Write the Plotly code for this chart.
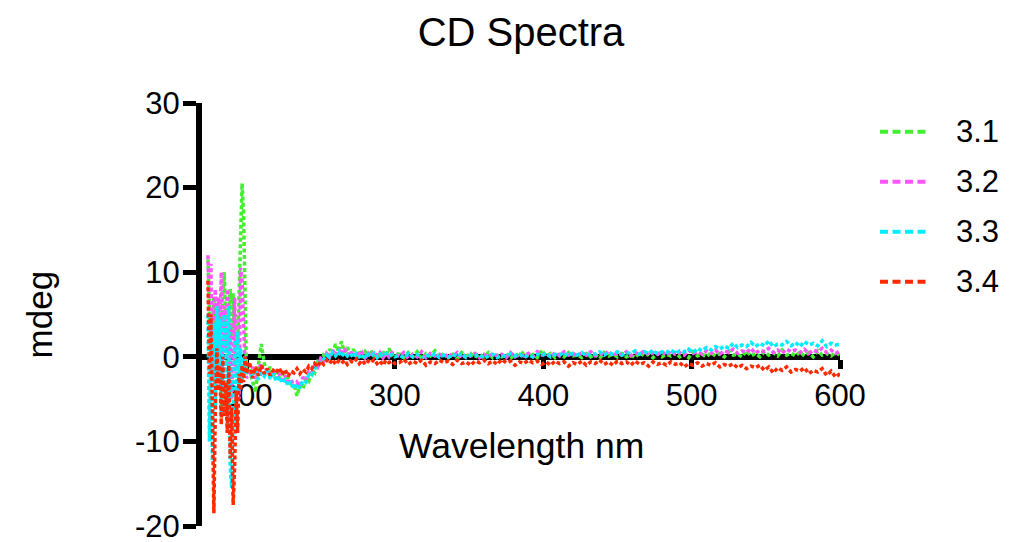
import plotly.graph_objects as go

# Wavelength grid (nm)
wavelength = list(range(174, 201)) + list(range(202, 301, 2)) + list(range(303, 601, 3))

series_names = ["3.1", "3.2", "3.3", "3.4"]
series_colors = ["#44ee33", "#ff55ff", "#00eeff", "#ff2a00"]

s31 = [
    # 174-200
    11.5, 4, -1, 3, 7, -0.5, 2, 6, 0.5, 4, 8, 10, 3, -1, 5, 8, 2, 7.5, -1, 5, 1, 9, 14, 20.5, 17, 6, -2,
    # 202-300
    -1.5, -2.8, -4.2, -1.0, 1.5, -0.8, -1.8, -1.2, -2.3, -1.6, -2.5, -1.9, -2.9, -2.4, -3.6, -3.2, -4.6, -3.4, -3.8, -2.6,
    -2.9, -1.6, -1.9, -0.6, -0.9, 0.2, -0.1, 0.9, 0.4, 1.5, 0.6, 1.8, 0.5, 1.1, 0.3, 0.9, 0.2, 0.7, -0.1, 0.6,
    0.1, 0.8, 0.0, 0.5, -0.2, 0.6, 0.1, 1.0, 0.2, 0.4,
    # 303-600
    0.3, -0.1, 0.5, 0.0, 0.6, -0.2, 0.4, 0.1, 0.7, -0.1,
    0.4, 0.0, 0.3, -0.2, 0.5, 0.1, 0.4, -0.1, 0.3, 0.0,
    0.5, -0.1, 0.2, 0.0, 0.4, -0.2, 0.3, 0.1, 0.6, 0.0,
    0.3, -0.1, 0.8, 0.1, 0.4, -0.1, 0.3, 0.0, 0.5, 0.1,
    0.2, -0.1, 0.4, 0.0, 0.3, -0.2, 0.5, 0.1, 0.3, 0.0,
    0.4, 0.0, 0.2, -0.1, 0.5, 0.1, 0.3, -0.1, 0.4, 0.0,
    0.3, 0.1, 0.5, 0.0, 0.4, -0.1, 0.6, 0.1, 0.3, 0.0,
    0.5, 0.1, 0.4, 0.0, 0.6, 0.2, 0.3, 0.0, 0.7, 0.1,
    0.4, 0.0, 0.6, 0.2, 0.5, 0.1, 0.8, 0.2, 0.4, 0.1,
    0.6, 0.1, 0.5, 0.0, 0.7, 0.2, 0.4, 0.1, 0.5, 0.2,
]

s32 = [
    12, 6, 11, -3, 5, 8, -2, 7, 3, 10, -4, 6, 1, 8, -3, 4, -5, 2, 7, -2, 3, -5, 10.5, 9, 2, -1, -2.5,
    -2.0, -1.2, -2.6, -1.5, -0.8, -2.2, -1.4, -2.4, -1.7, -2.6, -2.0, -2.8, -2.2, -3.3, -2.6, -3.6, -3.0, -3.5, -2.4, -2.8,
    -1.7, -1.9, -0.9, -1.2, -0.2, -0.5, 0.4, 0.0, 0.8, 0.2, 0.9, 0.3, 1.0, 0.2, 0.7, 0.0, 0.6, 0.1, 0.5, -0.1,
    0.4, 0.0, 0.6, 0.1, 0.5, -0.1, 0.4, 0.0, 0.5, 0.2,
    0.1, 0.5, -0.2, 0.3, 0.0, 0.6, -0.1, 0.4, 0.1, 0.3,
    -0.1, 0.4, 0.0, 0.5, -0.2, 0.3, 0.1, 0.4, -0.1, 0.3,
    0.0, 0.4, 0.1, 0.3, -0.1, 0.5, 0.0, 0.3, 0.1, 0.4,
    0.0, 0.6, 0.2, 0.4, 0.0, 0.5, 0.1, 0.6, 0.2, 0.4,
    0.1, 0.5, 0.2, 0.6, 0.1, 0.4, 0.2, 0.7, 0.1, 0.5,
    0.2, 0.6, 0.1, 0.5, 0.3, 0.7, 0.2, 0.5, 0.3, 0.6,
    0.2, 0.7, 0.3, 0.5, 0.2, 0.8, 0.4, 0.6, 0.3, 0.7,
    0.4, 0.8, 0.3, 0.7, 0.5, 0.9, 0.4, 0.7, 0.5, 1.0,
    0.4, 0.8, 0.6, 1.0, 0.5, 0.8, 0.4, 0.9, 0.6, 0.8,
    0.5, 0.9, 0.4, 0.8, 0.6, 1.0, 0.5, 0.8, 0.4, 0.7,
]

s33 = [
    5, -10, 2, -12.3, 4, -6, 6, -3, 4.5, -7, 1, 5, -5, 3, 6, -13, -15.5, -8, 2, -6, 3, -4, 1, -3, 0, -2, -1.5,
    -1.8, -2.4, -1.5, -2.7, -1.9, -2.3, -1.6, -2.6, -2.0, -2.9, -2.3, -3.1, -2.6, -3.4, -2.9, -3.8, -3.2, -3.7, -2.8, -3.0,
    -2.1, -2.2, -1.3, -1.1, -0.5, -0.3, 0.2, -0.1, 0.5, 0.1, 0.6, 0.0, 0.5, 0.1, 0.4, -0.1, 0.4, 0.0, 0.3, -0.2,
    0.3, 0.1, 0.4, -0.1, 0.3, 0.0, 0.4, 0.1, 0.3, 0.0,
    0.2, -0.1, 0.4, 0.0, 0.3, -0.2, 0.2, 0.0, 0.4, -0.1,
    0.2, -0.1, 0.3, 0.0, 0.4, -0.1, 0.2, 0.1, 0.3, -0.2,
    0.1, 0.3, -0.1, 0.2, 0.0, 0.4, 0.1, 0.3, -0.1, 0.2,
    0.0, 0.3, 0.1, 0.4, 0.0, 0.3, 0.2, 0.5, 0.1, 0.4,
    0.2, 0.5, 0.1, 0.4, 0.3, 0.6, 0.2, 0.5, 0.3, 0.6,
    0.2, 0.5, 0.4, 0.7, 0.3, 0.6, 0.4, 0.8, 0.3, 0.6,
    0.5, 0.8, 0.4, 0.7, 0.6, 0.9, 0.5, 1.0, 0.7, 1.1,
    0.8, 1.2, 0.9, 1.3, 1.0, 1.6, 1.1, 1.4, 1.2, 1.7,
    1.2, 1.6, 1.3, 1.9, 1.2, 1.5, 1.4, 1.8, 1.3, 1.7,
    1.2, 1.8, 1.4, 1.6, 1.3, 1.9, 1.2, 1.6, 1.4, 1.5,
]

s34 = [
    9, -2, 5, -9, -18.5, -6, 1, -4, -1, -8, 0, -7, -3, -9, -1, -12, -6, -17.5, -13, -4, -9, -2, -4, -1, -3, 0, -2,
    -0.6, -2.5, -1.2, -2.2, -1.0, -2.0, -1.4, -2.2, -1.6, -1.9, -1.3, -2.1, -1.5, -2.3, -1.7, -1.9, -1.4, -2.0, -1.5, -1.8,
    -1.1, -1.4, -0.8, -1.2, -0.5, -0.9, -0.4, -0.8, -0.3, -0.9, -0.5, -0.8, -0.4, -0.9, -0.5, -0.7, -0.3, -0.8, -0.4, -0.9,
    -0.5, -0.7, -0.3, -0.8, -0.5, -1.0, -0.4, -0.7, -0.5, -0.8,
    -0.7, -0.3, -0.9, -0.5, -0.8, -0.4, -1.0, -0.6, -0.8, -0.4,
    -0.7, -0.5, -0.9, -0.4, -0.8, -0.6, -1.0, -0.5, -0.7, -0.4,
    -0.8, -0.5, -0.9, -0.3, -0.7, -0.5, -1.0, -0.6, -0.8, -0.4,
    -0.7, -0.5, -0.9, -0.6, -1.0, -0.5, -0.8, -0.6, -1.1, -0.7,
    -0.9, -0.5, -1.0, -0.6, -0.8, -0.4, -0.9, -0.6, -1.0, -0.5,
    -0.8, -0.6, -1.0, -0.5, -0.9, -0.7, -1.1, -0.6, -0.9, -0.7,
    -1.0, -0.6, -0.9, -0.7, -1.2, -0.8, -1.0, -0.7, -1.1, -0.8,
    -1.0, -0.7, -1.2, -0.9, -1.1, -0.8, -1.3, -1.0, -1.4, -1.1,
    -1.3, -1.0, -1.6, -1.2, -1.9, -1.3, -1.6, -1.2, -1.8, -1.5,
    -1.7, -1.3, -2.0, -1.6, -1.8, -1.4, -2.2, -1.7, -2.4, -2.0,
]

series_values = [s31, s32, s33, s34]

x_tickvals = [200, 300, 400, 500, 600]
x_ticktext = ["200", "300", "400", "500", "600"]
y_tickvals = [-20, -10, 0, 10, 20, 30]
y_ticktext = ["-20", "-10", "0", "10", "20", "30"]

FONT = "Liberation Sans, Arial, sans-serif"

fig = go.Figure()
for name, vals, col in zip(series_names, series_values, series_colors):
    fig.add_trace(go.Scatter(
        x=wavelength, y=vals, name=name, mode="lines",
        line=dict(color=col, width=3.5, dash="4px,2.5px"),
        showlegend=False,
    ))

# manual legend
leg_y = [0.9322, 0.8140, 0.6957, 0.5775]
for name, col, yy in zip(series_names, series_colors, leg_y):
    fig.add_shape(type="line", xref="paper", yref="paper",
                  x0=1.0627, x1=1.1348, y0=yy, y1=yy,
                  line=dict(color=col, width=4, dash="8px,4.5px"))
    fig.add_annotation(xref="paper", yref="paper", x=1.178, y=yy,
                       text=name, showarrow=False, xanchor="left", yanchor="middle",
                       font=dict(size=31, color="black", family=FONT))

fig.add_annotation(xref="paper", yref="paper", x=-0.254, y=0.50, text="mdeg",
                   textangle=-90, showarrow=False, xanchor="center", yanchor="middle",
                   font=dict(size=35, color="black", family=FONT))
fig.add_annotation(xref="paper", yref="paper", x=0.5, y=0.19, text="Wavelength nm",
                   showarrow=False, xanchor="center", yanchor="middle",
                   font=dict(size=35.5, color="black", family=FONT))

fig.update_layout(
    width=1002, height=534, autosize=False,
    margin=dict(l=194, r=170, t=95, b=16, pad=0),
    paper_bgcolor="white", plot_bgcolor="white",
    title=dict(text="CD Spectra", x=0.5, xref="paper", xanchor="center",
               y=1 - 24 / 534, yanchor="middle",
               font=dict(size=40, color="black", family=FONT)),
    font=dict(family=FONT, color="black"),
    xaxis=dict(range=[170, 600], anchor="free", position=0.4, automargin=False,
               showline=True, linecolor="black", linewidth=6,
               ticks="outside", ticklen=9, tickwidth=5, tickcolor="black",
               tickvals=x_tickvals, ticktext=x_ticktext,
               tickfont=dict(size=31, color="black", family=FONT),
               showgrid=False, zeroline=False, layer="below traces"),
    yaxis=dict(range=[-20, 30], domain=[0, 1], automargin=False,
               showline=True, linecolor="black", linewidth=6,
               ticks="outside", ticklen=13, tickwidth=5, tickcolor="black",
               tickvals=y_tickvals, ticktext=y_ticktext, ticklabelstandoff=-3,
               ticklabeloverflow="allow",
               tickfont=dict(size=31, color="black", family=FONT),
               showgrid=False, zeroline=False, layer="below traces"),
)

fig.write_html("out.html")
